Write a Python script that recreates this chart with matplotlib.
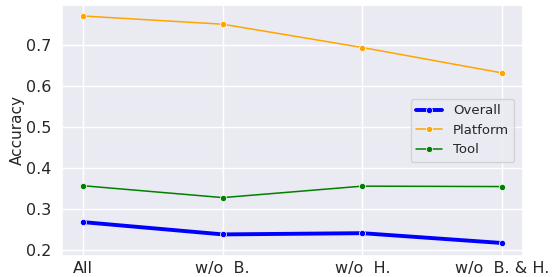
import numpy as np
import matplotlib
matplotlib.use("Agg")
import matplotlib.pyplot as plt
import seaborn as sns

settings = ["All", "w/o  B.", "w/o  H.", "w/o  B. & H."]
overall = [0.267, 0.237, 0.240, 0.216]
platform = [0.771, 0.751, 0.694, 0.632]
tool = [0.356, 0.327, 0.355, 0.354]

sns.set_theme(style="darkgrid")
plt.rcParams['font.family'] = ['DejaVu Sans']

fig, ax = plt.subplots(figsize=(5.52, 2.77), dpi=100)
x = np.arange(len(settings))
mk = dict(marker="o", markersize=4.5, markeredgecolor="white", markeredgewidth=0.5)
ax.plot(x, overall, color="blue", linewidth=2.8, label="Overall", **mk)
ax.plot(x, platform, color="orange", linewidth=1.1, label="Platform", **mk)
ax.plot(x, tool, color="green", linewidth=1.1, label="Tool", **mk)

ax.set_xticks(x)
ax.set_xticklabels(settings, fontsize=11.5)
ax.tick_params(axis="x", length=0, pad=4)
ax.tick_params(axis="y", labelsize=11.5, length=0, pad=8)
ax.set_ylabel("Accuracy", fontsize=11, labelpad=1)
ax.set_ylim(0.185, 0.798)
ax.legend(loc="center right", bbox_to_anchor=(0.996, 0.5), fontsize=9.5)

plt.subplots_adjust(left=0.113, right=0.947, top=0.982, bottom=0.077)
plt.savefig("out.png", dpi=100)
